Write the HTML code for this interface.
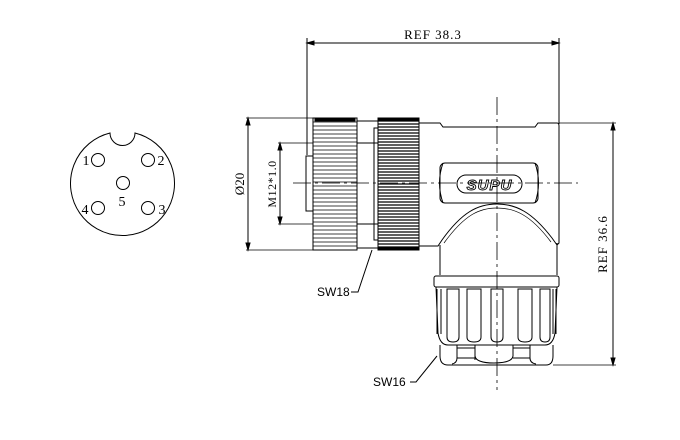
<!DOCTYPE html>
<html><head><style>body{margin:0;background:#fff}svg{display:block}</style></head><body>
<svg width="680" height="440" viewBox="0 0 680 440" xmlns="http://www.w3.org/2000/svg" font-family="Liberation Serif, serif" fill="none" stroke="#000" stroke-width="1">
<rect width="680" height="440" fill="#fff" stroke="none"/>
<!-- pin face -->
<path d="M110,133 A52,52 0 1 0 135,133 A12,12 0 0 1 110,133 Z"/>
<circle cx="98" cy="160" r="6.5"/><circle cx="148" cy="160" r="6.5"/>
<circle cx="123" cy="183" r="6.5"/><circle cx="98" cy="208" r="6.5"/><circle cx="148" cy="208" r="6.5"/>
<g fill="#000" stroke="none" font-size="14" text-anchor="middle">
<text x="86" y="165">1</text><text x="161" y="165">2</text><text x="122" y="206">5</text>
<text x="85" y="214">4</text><text x="162" y="214">3</text></g>
<!-- REF 38.3 -->
<line x1="307" y1="43" x2="559" y2="43"/>
<path d="M307,43 l7,-2 v4z M559,43 l-7,-2 v4z" fill="#000"/>
<line x1="307" y1="38" x2="307" y2="155"/><line x1="559" y1="38" x2="559" y2="124"/>
<text x="433" y="39" font-size="13" fill="#000" stroke="none" text-anchor="middle" letter-spacing="1">REF 38.3</text>
<!-- Ø20 -->
<line x1="246" y1="118" x2="313" y2="118" stroke-width="0.7"/><line x1="246" y1="250" x2="313" y2="250" stroke-width="0.7"/>
<line x1="248" y1="118" x2="248" y2="250"/>
<path d="M248,118 l-2,7 h4z M248,250 l-2,-7 h4z" fill="#000"/>
<text transform="translate(244,184) rotate(-90)" font-size="13" fill="#000" stroke="none" text-anchor="middle">Ø20</text>
<!-- M12 -->
<line x1="278" y1="143" x2="313" y2="143" stroke-width="0.7"/><line x1="278" y1="224" x2="313" y2="224" stroke-width="0.7"/>
<line x1="280" y1="143" x2="280" y2="224"/>
<path d="M280,143 l-2,7 h4z M280,224 l-2,-7 h4z" fill="#000"/>
<text transform="translate(276,184) rotate(-90)" font-size="12" fill="#000" stroke="none" text-anchor="middle" letter-spacing="0.5">M12*1.0</text>
<!-- face -->
<rect x="306" y="156" width="7" height="55"/>
<!-- nut 1 -->
<rect x="313" y="118" width="44" height="132"/>
<g stroke-width="0.8">
<path d="M313,122h44M313,126h44M313,130h44M313,134h44M313,138h44M313,142h44M313,146h44M313,150h44M313,154h44M313,158h44M313,162h44M313,166h44M313,170h44M313,174h44M313,178h44M313,182h44M313,186h44M313,190h44M313,194h44M313,198h44M313,202h44M313,206h44M313,210h44M313,214h44M313,218h44M313,222h44M313,226h44M313,230h44M313,234h44M313,238h44M313,242h44M313,246h44"/></g>
<rect x="315" y="118" width="40" height="3" fill="#000"/>
<!-- between -->
<rect x="357" y="121" width="21" height="127"/><line x1="357" y1="143" x2="378" y2="143"/><line x1="357" y1="224" x2="378" y2="224"/>
<rect x="374" y="128" width="4" height="112"/>
<!-- nut 2 -->
<rect x="378" y="118" width="41" height="132" fill="#fff"/>
<g stroke-width="1.2"><path d="M378,121h41M378,124h41M378,127h41M378,130h41M378,133h41M378,136h41M378,139h41M378,142h41M378,145h41M378,148h41M378,151h41M378,154h41M378,157h41M378,160h41M378,163h41M378,166h41M378,169h41M378,172h41M378,175h41M378,178h41M378,181h41M378,184h41M378,187h41M378,190h41M378,193h41M378,196h41M378,199h41M378,202h41M378,205h41M378,208h41M378,211h41M378,214h41M378,217h41M378,220h41M378,223h41M378,226h41M378,229h41M378,232h41M378,235h41M378,238h41M378,241h41M378,244h41M378,247h41"/></g>
<rect x="378" y="118" width="41" height="3" fill="#000"/><rect x="378" y="247" width="41" height="3" fill="#000"/>
<!-- body -->
<path d="M419,123 H440 L443,127 H535 L538,123 H557 Q559,123 559,126 V243 L557,245"/>
<path d="M419,246 H438 L442,240 C462,212 478,204 497,204 C516,204 532,212 552,238 L557,245"/>
<path d="M444,243 C465,214 480,208 497,208 C514,208 530,214 551,242" stroke-width="0.7"/>
<rect x="440" y="163" width="98" height="40" rx="5"/>
<path d="M443,163 Q436,183 443,203 M535,163 Q542,183 535,203"/>
<rect x="457" y="175" width="65" height="18" rx="9"/>
<text x="489.5" y="190" font-family="Liberation Sans, sans-serif" font-size="15" font-style="italic" font-weight="bold" text-anchor="middle" fill="#fff" stroke="#000" stroke-width="0.9" letter-spacing="1">SUPU</text>
<!-- lower elbow -->
<path d="M440,245 V275 M557,243 V275"/>
<!-- SW16 nut -->
<rect x="434" y="276" width="125" height="11" rx="2"/>
<path d="M436,287 L438,333 Q440,345 448,345 L545,345 Q553,345 555,333 L557,287"/>
<g>
<path d="M437,289 v45 M441,289 v45"/>
<path d="M447,289 v48 q0,5 6,5 q6,0 6,-5 v-48z"/>
<path d="M467,289 v48 q0,5 7,5 q7,0 7,-5 v-48z"/>
<path d="M491,289 v48 q0,5 6,5 q6,0 6,-5 v-48z"/>
<path d="M518,289 v48 q0,5 7,5 q7,0 7,-5 v-48z"/>
<path d="M540,289 v48 q0,5 5,5 q5,0 5,-5 v-48z"/>
<path d="M553,289 v45 M556,289 v45"/>
</g>
<!-- bottom lobes -->
<path d="M440,345 V356 Q440,365 448,365 H546 Q553,365 553,356 V345"/>
<path d="M457,345 V358 Q457,363 452,364 M457,348 H475 V360 M475,358 H457 M475,345 V356 Q476,363 494,363 Q512,363 513,356 V345 M513,348 H530 V358 H513 M530,345 V358 Q530,363 536,364"/>
<!-- centerlines -->
<line x1="293" y1="183" x2="578" y2="183" stroke-dasharray="18,4,3,4" stroke-width="0.8"/>
<line x1="497" y1="97" x2="497" y2="390" stroke-dasharray="18,4,3,4" stroke-width="0.8"/>
<!-- REF 36.6 -->
<line x1="559" y1="123" x2="616" y2="123" stroke-width="0.7"/><line x1="553" y1="365" x2="616" y2="365" stroke-width="0.7"/>
<line x1="613" y1="123" x2="613" y2="365"/>
<path d="M613,123 l-2,7 h4z M613,365 l-2,-7 h4z" fill="#000"/>
<text transform="translate(607,244) rotate(-90)" font-size="13" fill="#000" stroke="none" text-anchor="middle" letter-spacing="1">REF 36.6</text>
<!-- labels -->
<g font-family="Liberation Sans, sans-serif" font-size="12" fill="#000" stroke="none">
<text x="317" y="296">SW18</text><text x="373" y="386">SW16</text></g>
<path d="M351,292 H358 L372,250"/>
<path d="M410,382 H416 L437,356"/>
</svg>
</body></html>
